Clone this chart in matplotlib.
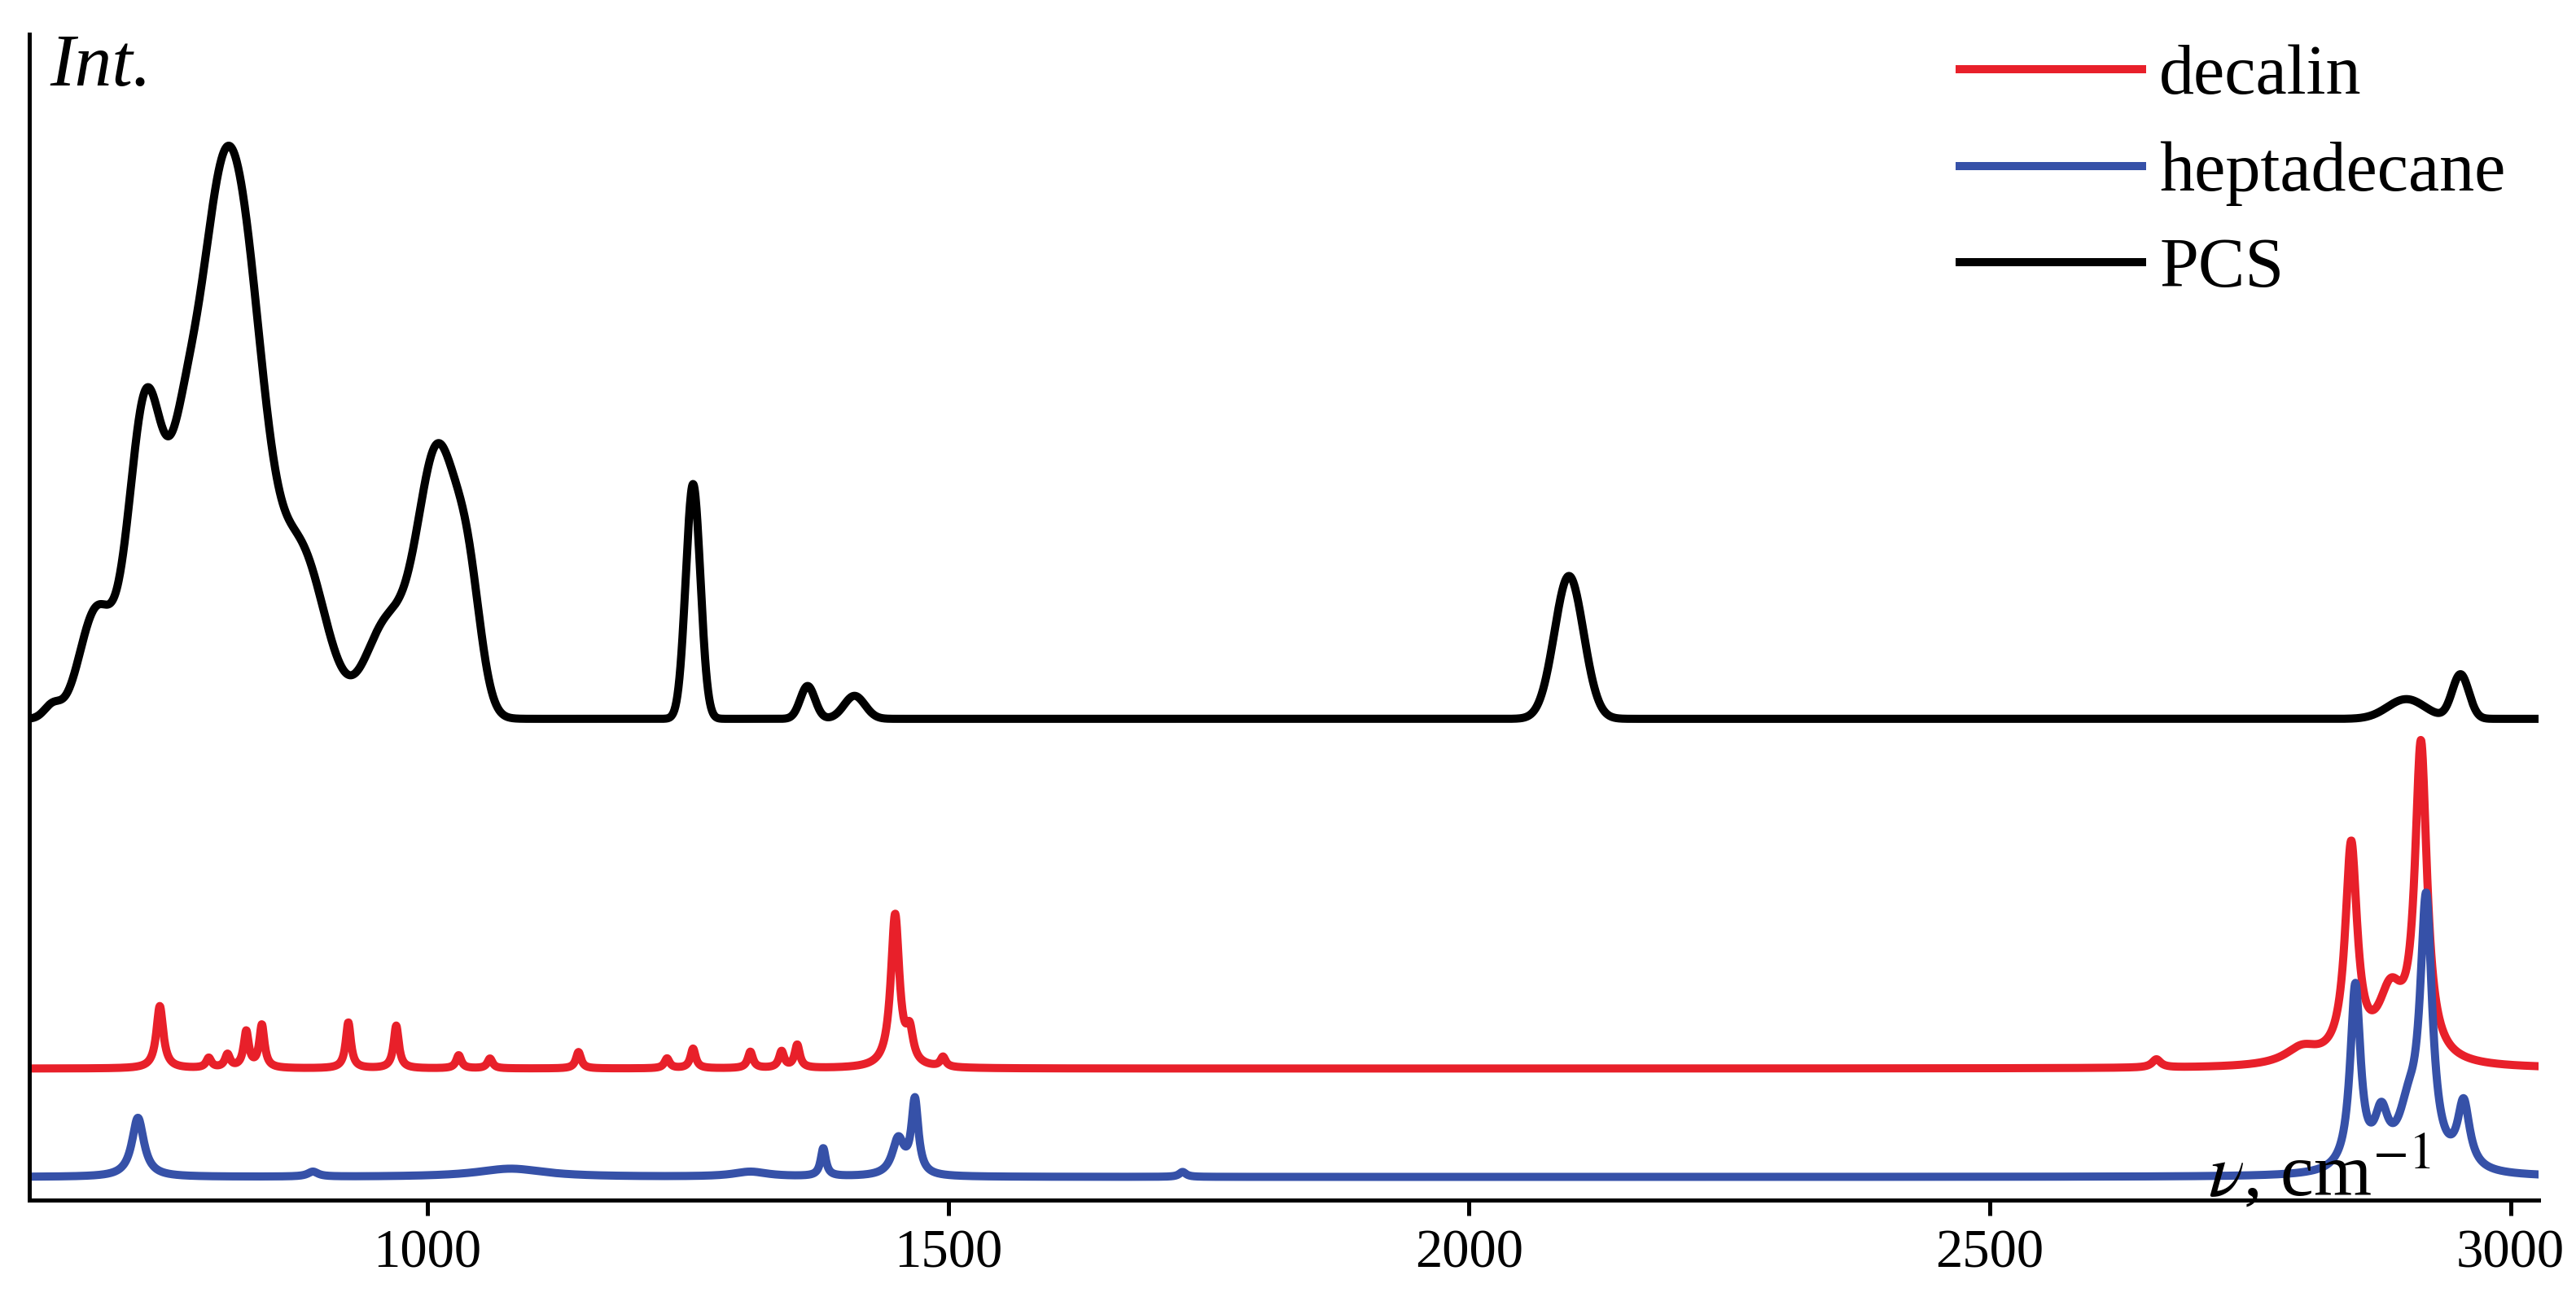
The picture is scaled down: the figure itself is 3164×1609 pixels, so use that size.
import numpy as np
import matplotlib
matplotlib.use("Agg")
import matplotlib.pyplot as plt
plt.rcParams["mathtext.fontset"] = "stix"

x = np.linspace(620, 3030, 5000)

# peak tables: position (cm-1), height, width
pcs_base = 293
pcs_pos = [640, 682, 730, 765, 795, 825, 878, 960, 1010, 1040, 1255, 1365, 1410, 2096, 2900, 2952]
pcs_h   = [8, 65, 195, 100, 225, 228, 100, 55, 163, 55, 143, 20, 14, 87, 12, 27]
pcs_w   = [8, 16, 17, 14, 20, 21, 24, 20, 20, 12, 7, 7, 10, 14, 18, 8]

dec_base = 80
dec_pos = [743, 790, 808, 826, 841, 924, 970, 1030, 1060, 1145, 1230, 1255, 1310, 1340, 1355, 1449, 1463, 1495, 2660, 2800, 2847, 2885, 2914]
dec_h   = [38, 6, 8, 22, 26, 28, 26, 8, 6, 10, 6, 12, 10, 10, 14, 93, 18, 6, 5, 10, 130, 40, 190]
dec_w   = [4, 3, 3, 3, 3, 3, 3, 3, 3, 3, 3, 3, 3, 3, 3, 5, 4, 3, 5, 20, 7, 15, 7]

hep_base = 14
hep_pos = [722, 890, 1080, 1310, 1380, 1452, 1468, 1725, 2851, 2876, 2902, 2919, 2955]
hep_h   = [36, 3, 5, 3, 17, 22, 45, 3, 112, 30, 30, 160, 40]
hep_w   = [7, 6, 40, 20, 3, 7, 4, 4, 6, 8, 12, 7, 7]

def lorentz(base, pos, h, w):
    y = np.full_like(x, base, dtype=float)
    for p, a, g in zip(pos, h, w):
        y += a * g**2 / ((x - p)**2 + g**2)
    return y

def gauss(base, pos, h, w):
    y = np.full_like(x, base, dtype=float)
    for p, a, s in zip(pos, h, w):
        y += a * np.exp(-0.5 * ((x - p) / s)**2)
    return y

fig = plt.figure(figsize=(15.82, 8.045), dpi=200)
ax = fig.add_axes([0.0115, 0.084, 0.974, 0.89])
serif = "Liberation Serif"
lw = 3.6

ax.plot(x, lorentz(dec_base, dec_pos, dec_h, dec_w), color="#e8202a", lw=lw, label="decalin")
ax.plot(x, lorentz(hep_base, hep_pos, hep_h, hep_w), color="#3651a8", lw=lw, label="heptadecane")
ax.plot(x, gauss(pcs_base, pcs_pos, pcs_h, pcs_w), color="black", lw=lw, label="PCS")

ax.set_xlim(618, 3027)
ax.set_ylim(0, 710)
ax.set_xticks([1000, 1500, 2000, 2500, 3000])
ax.set_yticks([])
for s in ["top", "right"]:
    ax.spines[s].set_visible(False)
for s in ["left", "bottom"]:
    ax.spines[s].set_linewidth(1.8)
ax.tick_params(axis="x", labelsize=24, width=1.8, length=7, pad=6)
for t in ax.get_xticklabels():
    t.set_fontfamily(serif)

ax.text(0.008, 1.0, "Int.", transform=ax.transAxes, fontsize=33, style="italic",
        family=serif, va="top", ha="left")
ax.text(0.957, -0.01, r"$\nu$, cm$^{-1}$", transform=ax.transAxes, fontsize=33,
        family=serif, va="bottom", ha="right")

leg = ax.legend(loc="upper right", bbox_to_anchor=(1.012, 1.045), frameon=False,
                prop={"family": serif, "size": 31}, handlelength=2.6, labelspacing=0.45,
                handletextpad=0.25)
fig.savefig("out.png", dpi=200)
